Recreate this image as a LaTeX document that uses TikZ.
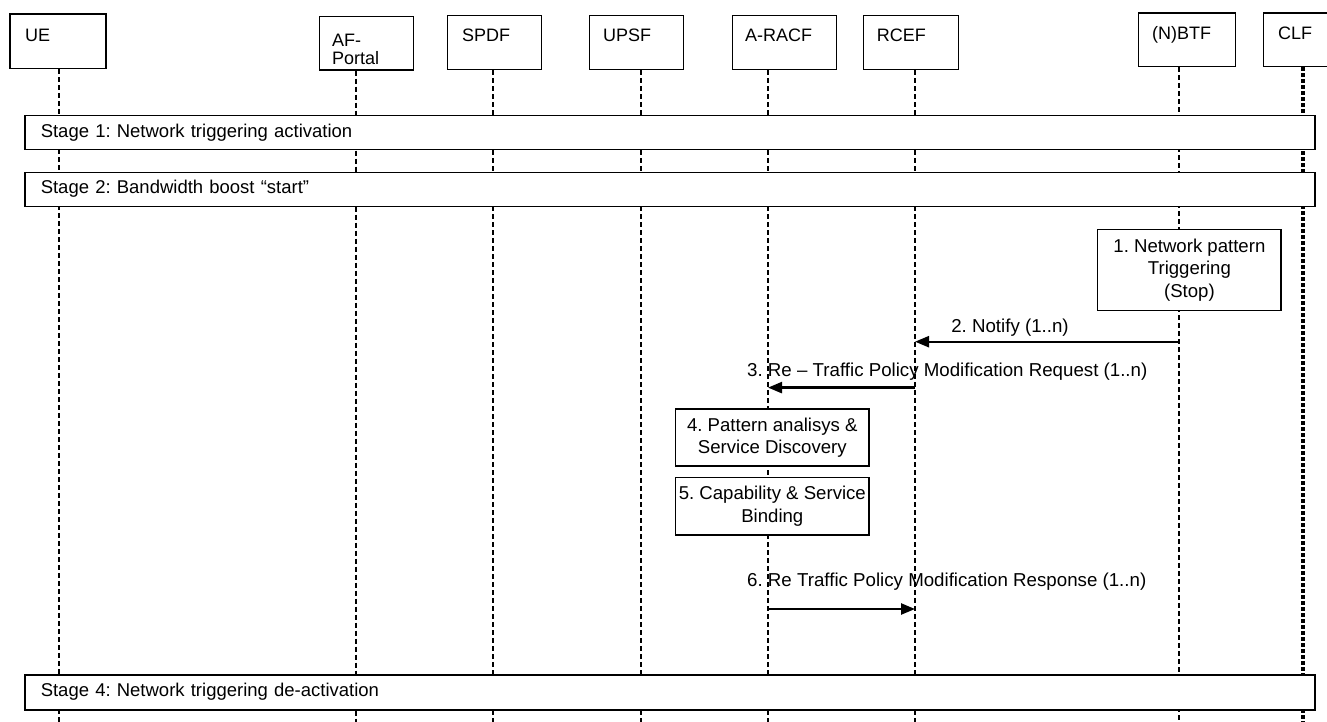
\documentclass[tikz,border=0pt]{standalone}
\usepackage{fontspec}
\setmainfont{Liberation Sans}
\usetikzlibrary{arrows.meta}
\frenchspacing
\begin{document}
\begin{tikzpicture}[x=1pt,y=-1pt,
  font=\fontsize{18}{22.5}\selectfont,
  hdr/.style={draw, line width=1.4pt, fill=white, inner sep=0pt, anchor=north west},
  hdrtext/.style={anchor=base west, inner sep=0pt},
  life/.style={line width=2pt, dash pattern=on 5pt off 3pt},
  lifeclf/.style={line width=3.2pt, dash pattern=on 3.5pt off 2.5pt},
  stagebar/.style={draw, line width=1.5pt, fill=white, anchor=north west,
    minimum width=1290pt, text width=1258pt, inner xsep=16pt, inner ysep=0pt,
    align=left, text height=13pt, text depth=4pt,
    font=\fontsize{18.5}{22.5}\selectfont},
  actbox/.style={draw, line width=1.4pt, fill=white, align=center, inner sep=0pt,
    font=\fontsize{18.6}{22.5}\selectfont},
  msg/.style={line width=2.4pt, -{Triangle[length=14pt,width=11pt]}},
  msglbl/.style={inner sep=0pt, font=\fontsize{18.7}{22.5}\selectfont}]

\useasboundingbox[fill=white] (0,0) rectangle (1327,722);
\coordinate (bottom) at (0,722);

% participant boxes
\node[hdr, minimum width=96pt, minimum height=54.4pt] (ue) at (9.3,13.3) {};
\node[hdr, minimum width=94pt, minimum height=53.6pt] (af) at (319,15.7) {};
\node[hdr, minimum width=94.3pt, minimum height=54pt] (spdf) at (446.7,15) {};
\node[hdr, minimum width=94pt, minimum height=54pt] (upsf) at (589,15) {};
\node[hdr, minimum width=104pt, minimum height=54pt] (racf) at (731.7,15) {};
\node[hdr, minimum width=94.7pt, minimum height=54pt] (rcef) at (863,15) {};
\node[hdr, minimum width=97.3pt, minimum height=53.5pt] (btf) at (1137.7,12.3) {};
\node[hdr, minimum width=70pt, minimum height=53.5pt] (clf) at (1263,12.3) {};

\node[hdrtext] (ue-t) at (25,42) {UE};
\node[anchor=north west, inner sep=0pt, align=left, font=\fontsize{18}{18.5}\selectfont] (af-t) at (332,33.5) {AF-\\Portal};
\node[hdrtext] (spdf-t) at (462,41.7) {SPDF};
\node[hdrtext] (upsf-t) at (603,41.7) {UPSF};
\node[hdrtext] (racf-t) at (745,41.7) {A-RACF};
\node[hdrtext] (rcef-t) at (876.7,41.7) {RCEF};
\node[hdrtext] (btf-t) at (1152,39.5) {(N)BTF};
\node[hdrtext] (clf-t) at (1278,39.5) {CLF};

% lifeline positions
\coordinate (l-ue) at (59,0);
\coordinate (l-af) at (356,0);
\coordinate (l-spdf) at (493,0);
\coordinate (l-upsf) at (641,0);
\coordinate (l-racf) at (768,0);
\coordinate (l-rcef) at (915,0);
\coordinate (l-btf) at (1179,0);
\coordinate (l-clf) at (1303,0);

\draw[life] (l-ue |- ue.south) -- (l-ue |- bottom);
\draw[life] (l-af |- af.south) -- (l-af |- bottom);
\draw[life] (l-spdf |- spdf.south) -- (l-spdf |- bottom);
\draw[life] (l-upsf |- upsf.south) -- (l-upsf |- bottom);
\draw[life] (l-racf |- racf.south) -- (l-racf |- bottom);
\draw[life] (l-rcef |- rcef.south) -- (l-rcef |- bottom);
\draw[life] (l-btf |- btf.south) -- (l-btf |- bottom);
\draw[lifeclf] (l-clf |- clf.south) -- (l-clf |- bottom);

% stage bars
\node[stagebar, minimum height=34pt] (st1) at (24,115) {Stage 1: Network triggering activation};
\node[stagebar, minimum height=34pt] (st2) at (24,171.7) {Stage 2: Bandwidth boost “start”};
\node[stagebar, minimum height=35pt] (st4) at (24,674) {Stage 4: Network triggering de-activation};

% local actions
\node[actbox, minimum width=183.3pt, minimum height=81pt] (a1) at (1189.4,270)
  {1. Network pattern\\Triggering\\(Stop)};
\node[actbox, minimum width=193.3pt, minimum height=57pt] (a4) at (772.3,437.5)
  {4. Pattern analisys \&\\Service Discovery};
\node[actbox, minimum width=193.3pt, minimum height=57.3pt] (a5) at (772.3,506.3)
  {5. Capability \& Service\\Binding};

% messages
\coordinate (y2) at (0,341.7);
\coordinate (y3) at (0,387.6);
\coordinate (y6) at (0,609);
\draw[msg] (l-btf |- y2) -- (l-rcef |- y2);
\draw[msg] (l-rcef |- y3) -- (l-racf |- y3);
\draw[msg] (l-racf |- y6) -- (l-rcef |- y6);

\node[msglbl, anchor=base] (m2) at (1010,332.5) {2. Notify (1..n)};
\node[msglbl, anchor=base west] (m3) at (747,376) {3. Re – Traffic Policy Modification Request (1..n)};
\node[msglbl, anchor=base west] (m6) at (747,586) {6. Re Traffic Policy Modification Response (1..n)};
\end{tikzpicture}
\end{document}
